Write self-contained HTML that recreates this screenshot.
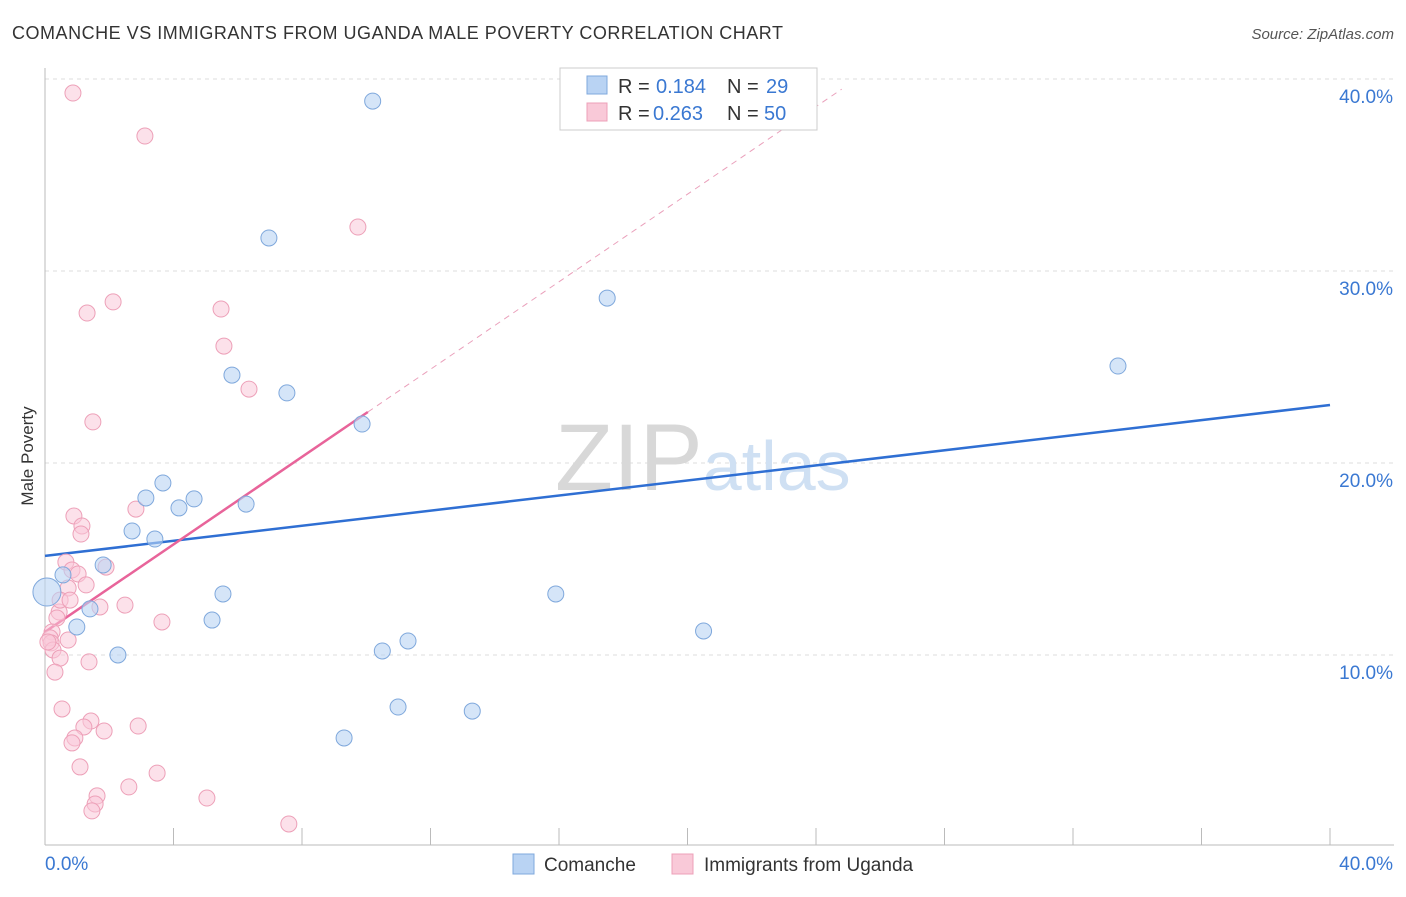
<!DOCTYPE html>
<html><head><meta charset="utf-8"><style>
body{margin:0;background:#fff;font-family:"Liberation Sans",sans-serif}
svg text{font-family:"Liberation Sans",sans-serif}
</style></head><body>
<svg width="1406" height="892" xmlns="http://www.w3.org/2000/svg">
<text x="12" y="39" font-size="18" fill="#333" textLength="771">COMANCHE VS IMMIGRANTS FROM UGANDA MALE POVERTY CORRELATION CHART</text>
<text x="1394" y="39" font-size="15" fill="#555" font-style="italic" text-anchor="end">Source: ZipAtlas.com</text>
<text x="33" y="456" font-size="17" fill="#333" text-anchor="middle" transform="rotate(-90 33 456)">Male Poverty</text>
<g id="grid"></g>
<g id="axes"></g>
<text x="555" y="490" font-size="95" fill="#ddd" font-family="Liberation Serif"><tspan fill="#d8d8d8">ZIP</tspan><tspan fill="#cfe0f3" font-family="Liberation Sans" font-size="70">atlas</tspan></text>
<g id="lines"></g>
<g id="pts"></g>
<g>
<rect x="560" y="68" width="257" height="62" fill="#fff" stroke="#ccc"/>
<rect x="587" y="76" width="20" height="18" fill="#b9d3f3" stroke="#7fa8dc"/>
<rect x="587" y="103" width="20" height="18" fill="#f9c9d8" stroke="#eda0b8"/>
<text x="618" y="93" font-size="20" fill="#333">R =</text>
<text x="656" y="93" font-size="20" fill="#3a78d2">0.184</text>
<text x="727" y="93" font-size="20" fill="#333">N =</text>
<text x="766" y="93" font-size="20" fill="#3a78d2">29</text>
<text x="618" y="120" font-size="20" fill="#333">R =</text>
<text x="653" y="120" font-size="20" fill="#3a78d2">0.263</text>
<text x="727" y="120" font-size="20" fill="#333">N =</text>
<text x="764" y="120" font-size="20" fill="#3a78d2">50</text>
</g>
<g>
<rect x="513" y="854" width="21" height="20" fill="#b9d3f3" stroke="#7fa8dc"/>
<text x="544" y="871" font-size="19" fill="#333">Comanche</text>
<rect x="672" y="854" width="21" height="20" fill="#f9c9d8" stroke="#eda0b8"/>
<text x="704" y="871" font-size="19" fill="#333">Immigrants from Uganda</text>
</g>
</svg>
<script>
const yTicks=[10,20,30,40];
const yTickLabels=["10.0%","20.0%","30.0%","40.0%"];
const xTicks=[0,4,8,12,16,20,24,28,32,36,40];
const blueX=[10.2,6.97,17.5,33.4,5.82,7.53,9.87,3.67,3.14,4.64,4.17,6.26,2.71,3.42,1.81,0.56,0.06,1.40,0.99,5.54,5.20,15.9,20.5,2.27,10.5,11.3,10.99,13.3,9.31];
const blueY=[38.85,31.72,28.59,25.05,24.58,23.65,22.03,18.96,18.18,18.13,17.66,17.86,16.46,16.04,14.69,14.17,13.28,12.40,11.46,13.18,11.82,13.18,11.25,10.0,10.21,10.73,7.29,7.08,5.68];
const pinkX=[0.87,3.11,9.74,2.12,1.31,5.48,5.57,6.35,1.49,0.90,1.15,1.12,2.83,0.65,0.84,1.90,1.03,1.28,0.72,0.44,1.71,2.49,0.37,3.64,0.22,0.16,0.72,0.19,0.25,0.47,1.37,0.31,0.53,1.43,1.21,1.84,2.90,0.93,0.84,1.09,3.49,2.61,1.62,1.56,1.46,5.04,7.59,0.09,0.47,0.78];
const pinkY=[39.27,37.03,32.29,28.39,27.81,28.02,26.09,23.85,22.14,17.24,16.72,16.30,17.60,14.84,14.43,14.58,14.22,13.65,13.49,12.24,12.50,12.60,11.93,11.72,11.20,10.89,10.78,10.63,10.26,9.84,9.64,9.11,7.19,6.56,6.25,6.04,6.30,5.68,5.42,4.17,3.85,3.13,2.66,2.24,1.88,2.55,1.20,10.68,12.86,12.86];
const blueLine=[15.16,23.02];
const pinkLine=[11.2,1.14];
const NS="http://www.w3.org/2000/svg";
const X=v=>45+v*32.125, Y=v=>655-(v-10)*19.2;
function mk(t,a,p){const e=document.createElementNS(NS,t);for(const k in a)e.setAttribute(k,a[k]);document.getElementById(p).appendChild(e);return e;}
yTicks.forEach((t,i)=>{
 const l=mk('line',{x1:45,x2:1394,y1:Y(t),y2:Y(t),stroke:'#ddd','stroke-dasharray':'4,4'},'grid');
 
 
 const tx=mk('text',{x:1393,y:Y(t)+24,'font-size':19,fill:'#3a78d2','text-anchor':'end'},'axes');
 tx.textContent=yTickLabels[i];
 
 
});
const ya=mk('line',{x1:45,x2:45,y1:68,y2:845,stroke:'#bbb'},'axes');


const xa=mk('line',{x1:45,x2:1394,y1:845,y2:845,stroke:'#bbb'},'axes');


xTicks.forEach(t=>{
 const l=mk('line',{x1:X(t),x2:X(t),y1:828,y2:845,stroke:'#bbb'},'axes');
 
 
});
[[0,"0.0%",'start',45],[40,"40.0%",'end',1393]].forEach(a=>{
 const tx=mk('text',{x:a[3],y:870,'font-size':19,fill:'#3a78d2','text-anchor':a[2]},'axes');
 tx.textContent=a[1];
 
 
});
const bl=mk('line',{x1:X(0),y1:Y(blueLine[0]),x2:X(40),y2:Y(blueLine[1]),stroke:'#2f6fd3','stroke-width':2.5},'lines');


const pe=10.05, pd=24.8;
const pl=mk('line',{x1:X(0),y1:Y(pinkLine[0]),x2:X(pe),y2:Y(pinkLine[0]+pinkLine[1]*pe),stroke:'#e8649a','stroke-width':2.5},'lines');


const pdl=mk('line',{x1:X(pe),y1:Y(pinkLine[0]+pinkLine[1]*pe),x2:X(pd),y2:Y(pinkLine[0]+pinkLine[1]*pd),stroke:'#eaa0bb','stroke-width':1,'stroke-dasharray':'6,5'},'lines');


pinkX.forEach((x,i)=>{
 const c=mk('circle',{cx:X(x),cy:Y(pinkY[i]),r:8,fill:'rgba(249,201,216,0.55)',stroke:'#eda0b8','stroke-width':1},'pts');
 
 
});
blueX.forEach((x,i)=>{
 const c=mk('circle',{cx:X(x),cy:Y(blueY[i]),r:i==16?14:8,fill:'rgba(185,211,243,0.6)',stroke:'#7fa8dc','stroke-width':1},'pts');
 
 
});
</script>
</body></html>
